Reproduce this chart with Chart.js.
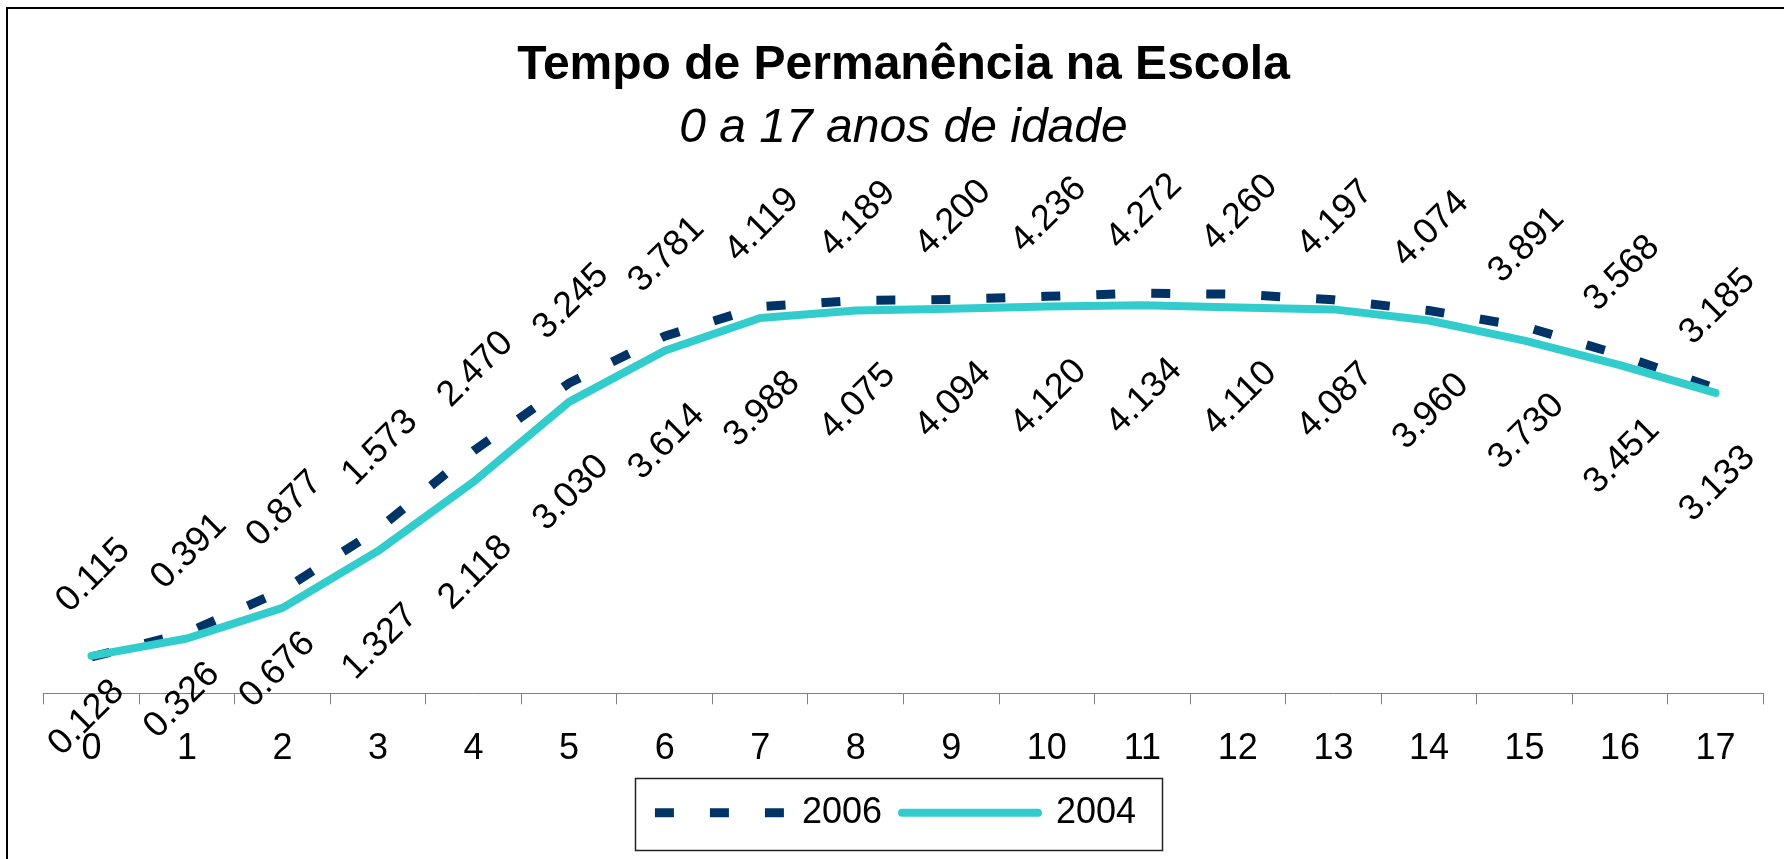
<!DOCTYPE html>
<html>
<head>
<meta charset="utf-8">
<script src="https://cdn.jsdelivr.net/npm/chart.js@4/dist/chart.umd.min.js"></script>
<style>
html,body{margin:0;padding:0;background:#fff;}
#wrap{width:1784px;height:859px;position:relative;}
canvas{display:block;}
</style>
</head>
<body>
<div id="wrap"><canvas id="c" width="1784" height="859"></canvas></div>
<script>
// ---- data ----
const ages = ['0','1','2','3','4','5','6','7','8','9','10','11','12','13','14','15','16','17'];
const values2006 = [0.115, 0.391, 0.877, 1.573, 2.470, 3.245, 3.781, 4.119, 4.189, 4.200, 4.236, 4.272, 4.260, 4.197, 4.074, 3.891, 3.568, 3.185];
const values2004 = [0.128, 0.326, 0.676, 1.327, 2.118, 3.030, 3.614, 3.988, 4.075, 4.094, 4.120, 4.134, 4.110, 4.087, 3.960, 3.730, 3.451, 3.133];
const seriesNames = ['2006', '2004'];
const titleText = 'Tempo de Permanência na Escola';
const subtitleText = '0 a 17 anos de idade';

const FONT = '"Liberation Sans", Arial, Helvetica, sans-serif';

// rotated value labels (above for 2006, below for 2004)
const valueLabels = {
  id: 'valueLabels',
  afterDatasetsDraw(chart) {
    const ctx = chart.ctx;
    const axisY = chart.scales.x.top;
    chart.data.datasets.forEach((ds, di) => {
      const meta = chart.getDatasetMeta(di);
      meta.data.forEach((pt, i) => {
        const txt = ds.data[i].toFixed(3);
        let dx, dy;
        if (ds.labelSide === 'above') { dx = 2; dy = -81.5; }
        else {
          dx = 2; dy = 91;
          if (pt.y + dy + 46 > axisY) { dx = -5; dy = 62; }
        }
        ctx.save();
        ctx.translate(pt.x + dx, pt.y + dy);
        ctx.rotate(-Math.PI / 4);
        ctx.font = '36px ' + FONT;
        ctx.fillStyle = '#000';
        ctx.textAlign = 'center';
        ctx.textBaseline = 'middle';
        ctx.fillText(txt, 0, 0);
        ctx.restore();
      });
    });
  }
};

// outer frame + legend frame, legend shift
const frames = {
  id: 'frames',
  afterLayout(chart) {
    const lg = chart.legend;
    if (lg) { lg.left -= 11.5; lg.right -= 11.5; }
  },
  beforeDraw(chart) {
    const ctx = chart.ctx;
    ctx.save();
    ctx.fillStyle = '#fff';
    ctx.fillRect(0, 0, chart.width, chart.height);
    ctx.restore();
  },
  afterDraw(chart) {
    const ctx = chart.ctx;
    ctx.save();
    ctx.strokeStyle = '#000';
    ctx.lineWidth = 2;
    ctx.strokeRect(7, 8, chart.width + 20, chart.height + 20);
    const lg = chart.legend;
    const hb = lg.legendHitBoxes;
    if (hb && hb.length) {
      const first = hb[0], last = hb[hb.length - 1];
      const cy = first.top + first.height / 2;
      ctx.lineWidth = 1.5;
      ctx.strokeStyle = '#222';
      const l = first.left - 13, r = last.left + last.width + 26;
      ctx.strokeRect(Math.round(l) + 0.5, Math.round(cy - 35) + 0.5, Math.round(r - l), 72);
    }
    ctx.restore();
  }
};

new Chart(document.getElementById('c'), {
  type: 'line',
  data: {
    labels: ages,
    datasets: [
      {
        label: seriesNames[0],
        data: values2006,
        borderColor: '#003366',
        backgroundColor: '#003366',
        borderWidth: 9,
        borderDash: [19, 36],
        borderCapStyle: 'butt',
        borderJoinStyle: 'miter',
        pointRadius: 0,
        pointHoverRadius: 0,
        tension: 0,
        fill: false,
        order: 1,
        labelSide: 'above'
      },
      {
        label: seriesNames[1],
        data: values2004,
        borderColor: '#33CCCC',
        backgroundColor: '#33CCCC',
        borderWidth: 8,
        borderCapStyle: 'round',
        borderJoinStyle: 'round',
        pointRadius: 0,
        pointHoverRadius: 0,
        tension: 0,
        fill: false,
        order: 0,
        labelSide: 'below'
      }
    ]
  },
  options: {
    responsive: false,
    animation: false,
    devicePixelRatio: 1,
    events: [],
    layout: { padding: { left: 43.7, right: 20.7, top: 0, bottom: 18.3 } },
    scales: {
      x: {
        type: 'category',
        offset: true,
        grid: {
          display: true,
          drawOnChartArea: false,
          drawTicks: true,
          tickLength: 11,
          color: '#808080',
          lineWidth: 1,
          offset: true
        },
        border: { display: true, color: '#808080', width: 1 },
        ticks: {
          color: '#000',
          font: { family: FONT, size: 36, lineHeight: 1.2 },
          padding: 23.6,
          maxRotation: 0,
          minRotation: 0,
          autoSkip: false
        },
        afterFit(scale) { scale.height = 81.4; }
      },
      y: {
        display: false,
        min: -0.3,
        max: 5.5
      }
    },
    plugins: {
      title: {
        display: true,
        text: titleText,
        color: '#000',
        font: { family: FONT, size: 48, weight: 'bold', lineHeight: 1.2 },
        padding: { top: 37, bottom: 0 }
      },
      subtitle: {
        display: true,
        text: subtitleText,
        color: '#000',
        font: { family: FONT, size: 48, style: 'italic', weight: 'normal', lineHeight: 1.2 },
        padding: { top: 5, bottom: 28.55 }
      },
      legend: {
        display: true,
        position: 'bottom',
        align: 'center',
        labels: {
          color: '#000',
          font: { family: FONT, size: 36 },
          usePointStyle: true,
          pointStyle: 'line',
          pointStyleWidth: 136,
          boxHeight: 36,
          padding: 20,
          sort: (a, b) => a.datasetIndex - b.datasetIndex,
          generateLabels(chart) {
            const items = Chart.defaults.plugins.legend.labels.generateLabels(chart);
            items.forEach(it => {
              const ds = chart.data.datasets[it.datasetIndex];
              it.pointStyle = 'line';
              it.strokeStyle = ds.borderColor;
              it.lineWidth = ds.borderWidth;
              it.lineCap = ds.borderCapStyle;
              it.lineJoin = ds.borderJoinStyle;
              it.lineDash = ds.borderDash || [];
              it.lineDashOffset = ds.borderDash ? 48 : 0;
            });
            return items;
          }
        }
      },
      tooltip: { enabled: false }
    }
  },
  plugins: [valueLabels, frames]
});
</script>
</body>
</html>
